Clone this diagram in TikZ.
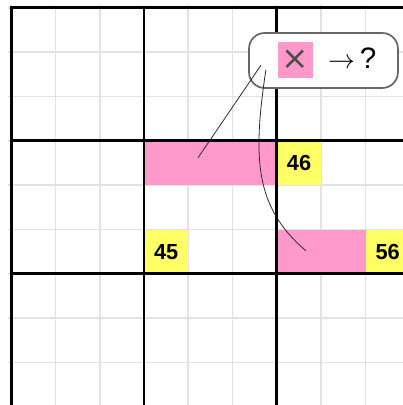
\documentclass[tikz,border=0pt]{standalone}
\usepackage{fontspec}
\setmainfont{Liberation Sans}
\newfontfamily\symfont{DejaVu Sans}
\usetikzlibrary{positioning}
\definecolor{hitpink}{HTML}{FF99CC}
\definecolor{cluegold}{HTML}{FFFF66}
\definecolor{gridgray}{HTML}{E2E2E2}

\begin{document}
\begin{tikzpicture}[
  cellbox/.style={minimum width=1cm, minimum height=1cm, inner sep=0pt, outer sep=0pt},
  hit/.style={cellbox, fill=hitpink},
  clue/.style={cellbox, fill=cluegold, font=\fontsize{14}{14}\selectfont\bfseries},
  fineline/.style={draw=gridgray, line width=1.1pt},
  boxline/.style={line width=1.9pt},
  callout/.style={draw=black!60, line width=1.1pt, rounded corners=10pt, fill=white,
    minimum width=3.36cm, minimum height=1.24cm},
  leader/.style={black!85, line width=0.5pt}
]
  \useasboundingbox (-0.25,0.04) rectangle (8.84,9.18);
  \clip (-0.25,0.04) rectangle (8.84,9.18);

  \draw[fineline] (-0.07,0.04) grid (8.84,9.07);

  \node[hit, minimum width=3cm] (rowa) at (4.5,5.5) {};
  \node[clue, right=0pt of rowa] (c46) {46};
  \node[clue] (c45) at (3.5,3.5) {45};
  \node[hit, minimum width=2cm] (rowb) at (7,3.5) {};
  \node[clue, right=0pt of rowb] (c56) {56};

  \draw[boxline] (0,0.04) -- (0,9) -- (8.84,9);
  \foreach \k in {3,6} {
    \draw[boxline] (\k,0.04) -- (\k,9);
    \draw[boxline] (0,\k) -- (8.84,\k);
  }

  \node[callout] (note) at (7.05,7.815) {};
  \node[minimum width=0.77cm, minimum height=0.81cm, inner sep=0pt, fill=hitpink,
    text=black!70, font=\symfont\fontsize{21}{21}\selectfont] (mark) at (6.42,7.83) {×};
  \node[inner sep=0pt, font=\fontsize{19}{19}\selectfont] (ask) at (7.70,7.86)
    {{\fontsize{16}{16}\selectfont$\rightarrow$}\,?};

  \coordinate (srca) at (5.64,7.71);
  \coordinate (srcb) at (5.75,7.60);
  \coordinate (tipa) at (4.22,5.62);
  \coordinate (tipb) at (6.655,3.52);
  \draw[leader] (srca) -- (tipa);
  \draw[leader] (srcb) .. controls (5.45,5.6) and (5.5,4.5) .. (tipb);
\end{tikzpicture}
\end{document}
